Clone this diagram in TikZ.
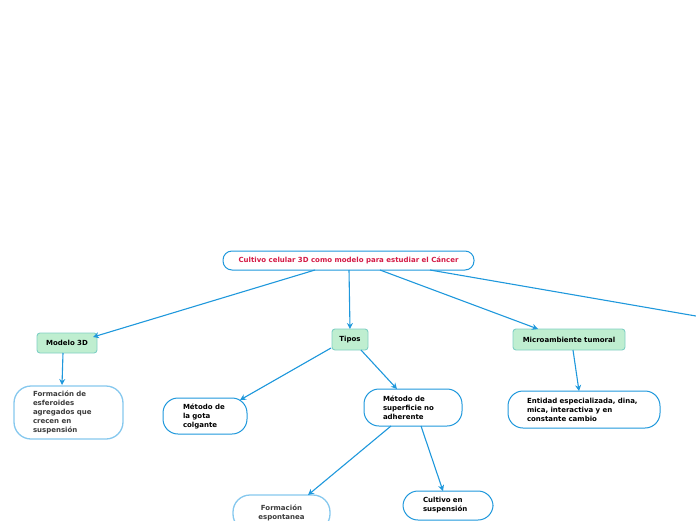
\documentclass[tikz,border=0pt]{standalone}
\usepackage{fontspec}
\setmainfont{DejaVu Sans}
\usetikzlibrary{arrows.meta,calc}
\definecolor{lnblue}{HTML}{1F98DC}
\definecolor{lightbd}{HTML}{86C8EE}
\definecolor{greenfill}{HTML}{BFEED0}
\definecolor{greenbd}{HTML}{7FCFC4}
\definecolor{roottxt}{HTML}{D41A45}
\definecolor{graytxt}{HTML}{3C3C3C}
\tikzset{
  every node/.style={font=\bfseries\fontsize{7pt}{9pt}\selectfont, inner sep=0pt, outer sep=0pt},
  rootbox/.style={draw=lnblue, line width=1pt, fill=white, rounded corners=9pt, text=roottxt},
  greenbox/.style={draw=greenbd, line width=0.9pt, fill=greenfill, rounded corners=3pt, text=black},
  pill/.style={draw=lnblue, line width=1pt, fill=white, rounded corners=15pt, align=left, text=black},
  lpill/.style={draw=lightbd, line width=1.3pt, fill=white, rounded corners=17pt, align=left, text=graytxt},
  conn/.style={draw=lnblue, line width=1.1pt, -{Stealth[length=6pt,width=6pt]}},
}
\begin{document}
\begin{tikzpicture}[x=1pt,y=-1pt]
\useasboundingbox (0,0) rectangle (696,520);
\node[rootbox, minimum width=251pt, minimum height=19pt] (root) at (348.5,260.5) {Cultivo celular 3D como modelo para estudiar el Cáncer};
\node[greenbox, minimum width=60pt, minimum height=20pt] (m3d) at (67,343) {Modelo 3D};
\node[greenbox, minimum width=36pt, minimum height=21pt] (tipos) at (350,339.5) {Tipos};
\node[greenbox, minimum width=112pt, minimum height=21pt] (micro) at (569,339.5) {Microambiente tumoral};
\node[lpill, minimum width=109pt, minimum height=53pt, text width=71pt] (esf) at (68.5,412.5) {Formación de\\esferoides\\agregados que\\crecen en\\suspensión};
\node[pill, minimum width=84pt, minimum height=36pt, text width=44pt] (gota) at (205,416) {Método de\\la gota\\colgante};
\node[pill, minimum width=98pt, minimum height=37pt, text width=60pt] (sup) at (413,407.5) {Método de\\superficie no\\adherente};
\node[pill, minimum width=152pt, minimum height=37pt, text width=114pt] (ent) at (584,409.5) {Entidad especializada, dina,\\mica, interactiva y en\\constante cambio};
\node[lpill, align=center, minimum width=97pt, minimum height=36pt] (esp) at (281.5,513) {Formación\\espontanea};
\node[pill, minimum width=90pt, minimum height=29pt, text width=50pt] (cult) at (448,505.5) {Cultivo en\\suspensión};
\coordinate (offr) at (704,317.4);
\draw[conn] ([xshift=-33.5pt]root.south) -- ([xshift=-4pt,yshift=-4pt]m3d.north east);
\draw[conn] ([xshift=0.5pt]root.south) -- (tipos.north);
\draw[conn] ([xshift=31.5pt]root.south) -- ([xshift=25pt]micro.north west);
\draw[draw=lnblue, line width=1.1pt] ([xshift=81.5pt]root.south) -- (offr);
\draw[conn] ([xshift=-4pt]m3d.south) -- ([xshift=-6.5pt,yshift=1pt]esf.north);
\draw[conn] ([xshift=-1pt,yshift=2pt]tipos.south west) -- ([xshift=-7pt,yshift=-2pt]gota.north east);
\draw[conn] ([xshift=11pt]tipos.south) -- ([xshift=-16pt]sup.north);
\draw[conn] ([xshift=4pt]micro.south) -- ([xshift=-5pt]ent.north);
\draw[conn] ([xshift=-22pt]sup.south) -- ([xshift=26.5pt]esp.north);
\draw[conn] ([xshift=8pt]sup.south) -- ([xshift=-5pt]cult.north);
\end{tikzpicture}
\end{document}
